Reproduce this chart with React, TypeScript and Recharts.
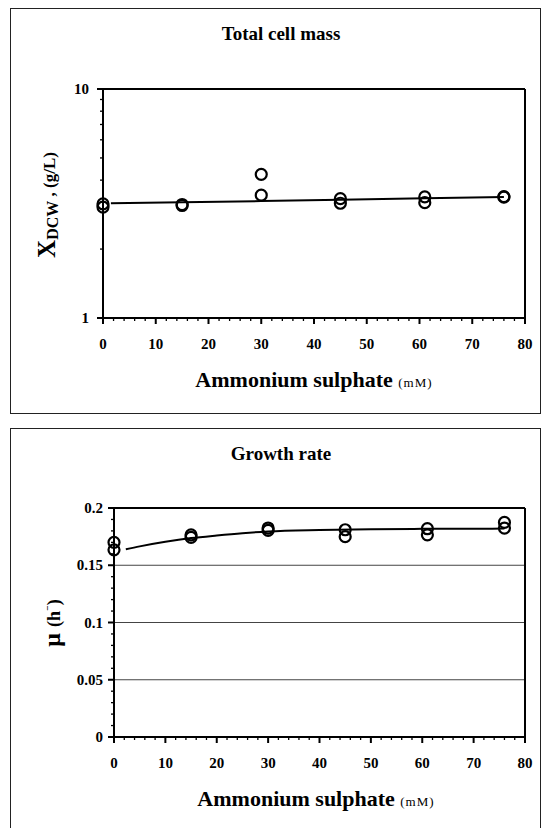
import React from 'react';
import { ComposedChart, XAxis, YAxis, Scatter, Line, ReferenceLine } from 'recharts';

// Ammonium sulphate concentrations (mM) of the duplicate runs
const runConc = [0, 0, 15, 15, 30, 30, 45, 45, 61, 61, 76, 76];
// Total cell mass X_DCW (g/L)
const massValues = [3.15, 3.05, 3.13, 3.1, 4.24, 3.44, 3.32, 3.17, 3.38, 3.19, 3.39, 3.37];
const massFitConc = [1.5, 15, 30, 45, 61, 76];
const massFitValues = [3.17, 3.2, 3.24, 3.28, 3.33, 3.38];
// Growth rate mu (1/h)
const rateValues = [0.17, 0.1635, 0.1766, 0.1743, 0.1825, 0.1804, 0.181, 0.175, 0.1819, 0.1766, 0.1874, 0.1825];
const rateFitConc = [2.3, 5, 10, 15, 20, 25, 30, 40, 50, 60, 76];
const rateFitValues = [0.164, 0.1665, 0.1705, 0.1737, 0.176, 0.178, 0.1795, 0.1808, 0.1815, 0.1818, 0.182];

// ticks
const xTickLabels = [0, 10, 20, 30, 40, 50, 60, 70, 80];
const xMinorTicks = Array.from({ length: 41 }, (_, i) => i * 2);
const massTickLabels = [1, 10];
const massMinorTicks = [1, 2, 3, 4, 5, 6, 7, 8, 9, 10];
const rateTickLabels = [0, 0.05, 0.1, 0.15, 0.2];
const rateMinorTicks = Array.from({ length: 21 }, (_, i) => i / 100);
const rateGrid = [0.05, 0.1, 0.15];

const FONT = '"Liberation Serif", "DejaVu Serif", serif';

const massPoints = runConc.map((x, i) => ({ x, y: massValues[i] }));
const massFit = massFitConc.map((x, i) => ({ x, y: massFitValues[i] }));
const ratePoints = runConc.map((x, i) => ({ x, y: rateValues[i] }));
const rateFit = rateFitConc.map((x, i) => ({ x, y: rateFitValues[i] }));

const isLabelled = (list: number[], v: number) => list.some((t) => Math.abs(t - v) < 1e-9);

const XTick = (props: any) => {
  const { x, y, payload } = props;
  const major = isLabelled(xTickLabels, payload.value);
  return (
    <g>
      <line x1={x} x2={x} y1={y} y2={y + (major ? 6 : 3)} stroke="#000" strokeWidth={major ? 2 : 1.3} />
      {major && (
        <text x={x} y={y + 26} textAnchor="middle" dominantBaseline="central"
          style={{ fontFamily: FONT }} fontWeight="bold" fontSize={15} fill="#000">
          {payload.value}
        </text>
      )}
    </g>
  );
};

const makeYTick = (labels: number[], gap: number) => (props: any) => {
  const { x, y, payload } = props;
  const major = isLabelled(labels, payload.value);
  return (
    <g>
      <line x1={x} x2={x - (major ? 6 : 3)} y1={y} y2={y} stroke="#000" strokeWidth={major ? 2 : 1.3} />
      {major && (
        <text x={x - gap} y={y} textAnchor="end" dominantBaseline="central"
          style={{ fontFamily: FONT }} fontWeight="bold" fontSize={15} fill="#000">
          {payload.value}
        </text>
      )}
    </g>
  );
};

const Ring = (props: any) => (
  <circle cx={props.cx} cy={props.cy} r={5.5} fill="none" stroke="#000" strokeWidth={2.2} />
);

const Panel: React.FC<{ top: number; height: number }> = ({ top, height }) => (
  <div style={{ position: 'absolute', left: 10, top, width: 529, height, border: '1px solid #222' }} />
);

const Text: React.FC<{ x: number; y: number; size: number; rotate?: boolean; children: React.ReactNode }> = ({ x, y, size, rotate, children }) => (
  <div style={{
    position: 'absolute', left: x, top: y, whiteSpace: 'nowrap', fontFamily: FONT, fontWeight: 'bold',
    fontSize: size, lineHeight: 1, color: '#000',
    transform: `translate(-50%, -50%)${rotate ? ' rotate(-90deg)' : ''}`,
  }}>
    {children}
  </div>
);

const axisLine = { stroke: '#000', strokeWidth: 2 };

export default function App() {
  return (
    <div style={{ position: 'absolute', left: 0, top: 0, width: 541, height: 828, overflow: 'hidden', background: '#fff', fontFamily: FONT }}>
      <Panel top={8} height={404} />
      <Panel top={428} height={420} />

      {/* Total cell mass */}
      <div style={{ position: 'absolute', left: 0, top: 0 }}>
        <ComposedChart width={541} height={420} margin={{ top: 89, right: 16, bottom: 72, left: 43 }}>
          <XAxis type="number" dataKey="x" domain={[0, 80]} ticks={xMinorTicks} interval={0}
            tickSize={0} tickMargin={0} tickLine={false} axisLine={axisLine} tick={XTick} height={30} />
          <YAxis type="number" dataKey="y" scale="log" domain={[1, 10]} allowDataOverflow ticks={massMinorTicks}
            interval={0} tickSize={0} tickMargin={0} tickLine={false} axisLine={axisLine}
            tick={makeYTick(massTickLabels, 14)} width={60} />
          <ReferenceLine y={10} stroke="#000" strokeWidth={2} />
          <ReferenceLine x={80} stroke="#000" strokeWidth={2} />
          <Line data={massFit} dataKey="y" type="linear" stroke="#000" strokeWidth={2} dot={false} isAnimationActive={false} />
          <Scatter data={massPoints} dataKey="y" shape={Ring} isAnimationActive={false} />
        </ComposedChart>
      </div>
      <Text x={281} y={33} size={19}>Total cell mass</Text>
      <Text x={46} y={205} size={25} rotate>
        X<span style={{ fontSize: 16, position: 'relative', top: 3 }}>DCW</span>
        <span style={{ fontSize: 17 }}> , (g/L)</span>
      </Text>
      <Text x={314} y={380} size={22}>
        Ammonium sulphate <span style={{ fontSize: 13, letterSpacing: 1, fontWeight: 'normal' }}>(mM)</span>
      </Text>

      {/* Growth rate */}
      <div style={{ position: 'absolute', left: 0, top: 420 }}>
        <ComposedChart width={541} height={408} margin={{ top: 88, right: 16, bottom: 61, left: 54 }}>
          <XAxis type="number" dataKey="x" domain={[0, 80]} ticks={xMinorTicks} interval={0}
            tickSize={0} tickMargin={0} tickLine={false} axisLine={axisLine} tick={XTick} height={30} />
          <YAxis type="number" dataKey="y" domain={[0, 0.2]} allowDataOverflow ticks={rateMinorTicks}
            interval={0} tickSize={0} tickMargin={0} tickLine={false} axisLine={axisLine}
            tick={makeYTick(rateTickLabels, 11)} width={60} />
          {rateGrid.map((v) => (
            <ReferenceLine key={v} y={v} stroke="#444" strokeWidth={1.2} />
          ))}
          <ReferenceLine y={0.2} stroke="#000" strokeWidth={2} />
          <ReferenceLine x={80} stroke="#000" strokeWidth={2} />
          <Line data={rateFit} dataKey="y" type="monotone" stroke="#000" strokeWidth={2} dot={false} isAnimationActive={false} />
          <Scatter data={ratePoints} dataKey="y" shape={Ring} isAnimationActive={false} />
        </ComposedChart>
      </div>
      <Text x={281} y={453} size={19}>Growth rate</Text>
      <Text x={52} y={623} size={24} rotate>
        μ <span style={{ fontSize: 18 }}>(h<sup style={{ fontSize: 11 }}>⁻</sup>)</span>
      </Text>
      <Text x={316} y={799} size={22}>
        Ammonium sulphate <span style={{ fontSize: 13, letterSpacing: 1, fontWeight: 'normal' }}>(mM)</span>
      </Text>
    </div>
  );
}
